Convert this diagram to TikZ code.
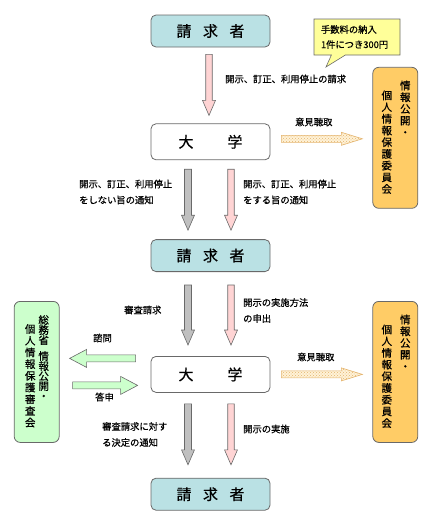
\documentclass[tikz,border=0pt]{standalone}
\usepackage{fontspec}
\setmainfont{Noto Sans CJK JP}[FakeBold=0.6]
\usetikzlibrary{positioning,calc,patterns,shapes.callouts}

\definecolor{askfill}{RGB}{186,225,228}
\definecolor{pinkfill}{RGB}{255,212,212}
\definecolor{grayfill}{RGB}{192,192,192}
\definecolor{greenfill}{RGB}{204,255,204}
\definecolor{orangefill}{RGB}{255,204,102}
\definecolor{notefill}{RGB}{255,255,153}
\definecolor{edgegray}{RGB}{105,105,105}
\definecolor{dotfill}{RGB}{255,242,215}
\definecolor{dotcolor}{RGB}{228,180,110}

\tikzset{
  fat/.style n args={3}{to path={
    ($(\tikztostart)!#1!90:(\tikztotarget)$)
    -- ($(\tikztotarget)!#3!(\tikztostart)!#1!90:(\tikztotarget)$)
    -- ($(\tikztotarget)!#3!(\tikztostart)!#2!90:(\tikztotarget)$)
    -- (\tikztotarget)
    -- ($(\tikztotarget)!#3!(\tikztostart)!#2!-90:(\tikztotarget)$)
    -- ($(\tikztotarget)!#3!(\tikztostart)!#1!-90:(\tikztotarget)$)
    -- ($(\tikztostart)!#1!-90:(\tikztotarget)$) -- cycle}},
  askbox/.style={draw=edgegray, fill=askfill, rounded corners=5pt, line width=0.8pt,
    minimum width=119pt, minimum height=32pt, font=\fontsize{15}{15}\selectfont},
  unibox/.style={draw=edgegray, fill=white, rounded corners=5pt, line width=0.8pt,
    minimum width=119pt, minimum height=36pt, font=\fontsize{15}{15}\selectfont},
  sidebox/.style={draw=edgegray, rounded corners=6pt, line width=0.8pt,
    minimum width=45pt, minimum height=141pt},
  vcol/.style={anchor=north, inner sep=0pt, align=center, font=\fontsize{10.5}{11.7}\selectfont},
  lbl/.style={anchor=west, inner sep=0pt, align=left, font=\fontsize{9.3}{16}\selectfont},
  pinkarrow/.style={fat={3.25pt}{6.5pt}{15pt}, fill=pinkfill, draw=edgegray, line width=0.6pt},
  grayarrow/.style={fat={3.5pt}{6.5pt}{15pt}, fill=grayfill, draw=edgegray, line width=0.6pt},
  greenarrow/.style={fat={3.5pt}{9pt}{17pt}, fill=greenfill, draw=edgegray, line width=0.6pt},
  dotarrow/.style={fat={3.5pt}{6.5pt}{21pt}, preaction={fill=dotfill}, pattern=crosshatch dots,
    pattern color=dotcolor, draw=dotcolor, line width=0.6pt}
}

\begin{document}
\begin{tikzpicture}[x=1pt, y=-1pt]
  \useasboundingbox (0,0) rectangle (436,515);

  % main column
  \node[askbox] (ask1) at (210.5,31) {請\hspace{11.5pt}求\hspace{11.5pt}者};
  \node[unibox, below=76pt of ask1] (uni1) {大\hspace{34pt}学};
  \node[askbox, below=79pt of uni1] (ask2) {請\hspace{11.5pt}求\hspace{11.5pt}者};
  \node[unibox, below=84pt of ask2] (uni2) {大\hspace{34pt}学};
  \node[askbox, below=85pt of uni2] (ask3) {請\hspace{11.5pt}求\hspace{11.5pt}者};

  % side boxes
  \node[sidebox, fill=orangefill, right=102pt of uni1, yshift=4pt] (comm1) {};
  \node[sidebox, fill=orangefill, right=102pt of uni2, yshift=2.5pt] (comm2) {};
  \node[sidebox, fill=greenfill, left=91pt of uni2, yshift=2.5pt] (board) {};

  \node[vcol] (comm1r) at ([xshift=10pt, yshift=-13.5pt]comm1.north) {情\\報\\公\\開\\・};
  \node[vcol] (comm1l) at ([xshift=-8.5pt, yshift=-23.5pt]comm1.north) {個\\人\\情\\報\\保\\護\\委\\員\\会};
  \node[vcol] (comm2r) at ([xshift=10pt, yshift=-13.5pt]comm2.north) {情\\報\\公\\開\\・};
  \node[vcol] (comm2l) at ([xshift=-8.5pt, yshift=-23.5pt]comm2.north) {個\\人\\情\\報\\保\\護\\委\\員\\会};
  \node[vcol, font=\fontsize{10.5}{10}\selectfont] (boardr) at ([xshift=7pt, yshift=-14pt]board.north)
    {総\\務\\省\\[6pt]情\\報\\公\\開\\・};
  \node[vcol] (boardl) at ([xshift=-6.5pt, yshift=-23pt]board.north) {個\\人\\情\\報\\保\\護\\審\\査\\会};

  % fee note
  \node[rectangle callout, callout absolute pointer={(326,67)}, callout pointer width=14pt,
    draw=edgegray, fill=notefill, line width=0.6pt, minimum height=36pt,
    text width=72pt, inner xsep=7pt, align=left, font=\fontsize{9.3}{15}\selectfont]
    (fee) at (357,37) {手数料の納入\\1件につき300円};

  % arrows
  \draw[pinkarrow] ([xshift=-1.5pt, yshift=-7pt]ask1.south) to ([xshift=-1.5pt, yshift=8pt]uni1.north);
  \draw[grayarrow] ([xshift=-22.5pt, yshift=-9pt]uni1.south) to ([xshift=-22.5pt, yshift=9pt]ask2.north);
  \draw[pinkarrow] ([xshift=20.5pt, yshift=-9pt]uni1.south) to ([xshift=20.5pt, yshift=9pt]ask2.north);
  \draw[grayarrow] ([xshift=-22.5pt, yshift=-13pt]ask2.south) to ([xshift=-22.5pt, yshift=11pt]uni2.north);
  \draw[pinkarrow] ([xshift=20.5pt, yshift=-13pt]ask2.south) to ([xshift=20.5pt, yshift=11pt]uni2.north);
  \draw[grayarrow] ([xshift=-22.5pt, yshift=-11pt]uni2.south) to ([xshift=-22.5pt, yshift=13pt]ask3.north);
  \draw[pinkarrow] ([xshift=20.5pt, yshift=-11pt]uni2.south) to ([xshift=20.5pt, yshift=13pt]ask3.north);
  \draw[dotarrow] ([xshift=11pt, yshift=3pt]uni1.east) to ([xshift=-10pt, yshift=-1pt]comm1.west);
  \draw[dotarrow] ([xshift=11pt]uni2.east) to ([xshift=-10pt, yshift=-2.5pt]comm2.west);
  \draw[greenarrow] ([xshift=-15pt, yshift=16pt]uni2.west) to ([xshift=10pt, yshift=13.5pt]board.east);
  \draw[greenarrow] ([xshift=13pt, yshift=-13.5pt]board.east) to ([xshift=-13pt, yshift=-11pt]uni2.west);

  % labels
  \node[lbl] (reqlbl) at (225,79) {開示、訂正、利用停止の請求};
  \node[lbl] (hear1) at (295,122) {意見聴取};
  \node[lbl] (nolbl) at (79,192) {開示、訂正、利用停止\\をしない旨の通知};
  \node[lbl] (yeslbl) at (243,192) {開示、訂正、利用停止\\をする旨の通知};
  \node[lbl] (appeallbl) at (124,310) {審査請求};
  \node[lbl] (methodlbl) at (243,310.5) {開示の実施方法\\の申出};
  \node[lbl] (consultlbl) at (93,338) {諮問};
  \node[lbl] (answerlbl) at (95,397) {答申};
  \node[lbl] (hear2) at (297,357) {意見聴取};
  \node[lbl] (decisionlbl) at (102,434.5) {審査請求に対す\\る決定の通知};
  \node[lbl] (implbl) at (243,429) {開示の実施};
\end{tikzpicture}
\end{document}
